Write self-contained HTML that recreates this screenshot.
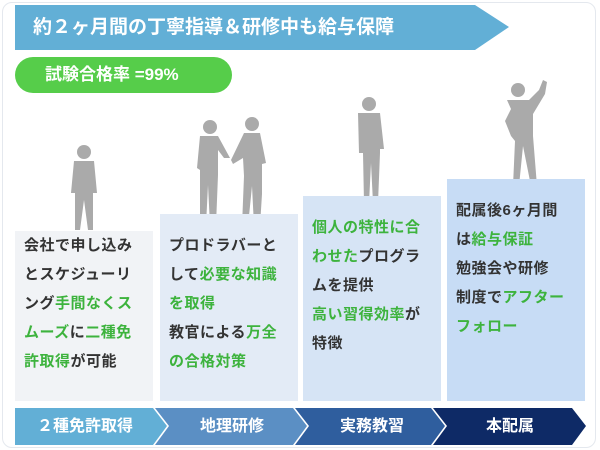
<!DOCTYPE html>
<html><head><meta charset="utf-8"><style>
body{margin:0;width:600px;height:450px;background:#fff;position:relative;overflow:hidden;font-family:"Liberation Sans","Noto Sans CJK JP",sans-serif;font-weight:bold}
.card{position:absolute;left:2px;top:2px;width:592px;height:444px;border:1px solid #e4e8ee;border-radius:10px}
.col{position:absolute;width:138px;bottom:49px;box-sizing:border-box;padding-left:9px;font-size:15px;color:#333;line-height:29px;letter-spacing:0.5px}
.g{color:#3db33d}
.pill{position:absolute;left:15px;top:57px;width:217px;height:36px;border-radius:18px;background:#56cd4a;color:#fff;font-size:17px;line-height:36px;padding-left:30px;box-sizing:border-box}
.bt{position:absolute;top:408px;height:37px;line-height:37px;color:#fff;font-size:16px;text-align:center}
</style></head><body>
<div class="card"></div>
<svg style="position:absolute;left:0;top:0" width="600" height="450">
<polygon points="15,5 475,5 509,27 475,50 15,50" fill="#62afd6"/>
<polygon points="15,408 153,408 167,426 153,445 15,445" fill="#62afd6"/>
<polygon points="155,408 293,408 307,426 293,445 155,445 169,426" fill="#5b8fc4"/>
<polygon points="295,408 431,408 445,426 431,445 295,445 309,426" fill="#2f5e9e"/>
<polygon points="433,408 572,408 586,426 572,445 433,445 447,426" fill="#0e2a66"/>
<g fill="#aaa">
<circle cx="84" cy="152" r="7"/><path d="M74 161h20l3 32h-4v37h-5l-4-30-4 30h-5v-37h-4z"/>
<circle cx="210" cy="127" r="7"/><path d="M200 136h18l12 22h-6l-6-8v25l-2 50h-6l-2-40-2 40h-6v-55l-3-2z"/>
<circle cx="252" cy="124" r="7"/><path d="M244 133h16l6 30-4 1v30l-2 32h-6l-2-40-4 40h-6l2-50-1-18-10 6-2-4z"/>
<circle cx="369" cy="104" r="7"/><path d="M358 113h22l4 36h-4v4l-2 50h-5l-2-40-2 40h-5l-1-50h-4z"/>
<circle cx="518" cy="90" r="7"/><path d="M507 100h22l10-10 4-10 4 2-2 12-12 20v22l4 50h-6l-8-40-4 40h-6l2-45-4-5-6-15 6-12z"/>
</g>
</svg>
<div style="position:absolute;left:33px;top:5px;height:45px;line-height:45px;color:#fff;font-size:19px">約２ヶ月間の丁寧指導＆研修中も給与保障</div>
<div class="pill">試験合格率 =99%</div>
<div class="col" style="left:15px;top:231px;background:#f1f3f6">会社で申し込み<br>とスケジューリ<br>ング<span class="g">手間なくス<br>ムーズ</span>に<span class="g">二種免<br>許取得</span>が可能</div>
<div class="col" style="left:160px;top:214px;background:#e3ebf6;padding-top:17px">プロドラバーと<br>して<span class="g">必要な知識<br>を取得</span><br>教官による<span class="g">万全<br>の合格対策</span></div>
<div class="col" style="left:303px;top:196px;background:#d6e4f5;padding-top:17px"><span class="g">個人の特性に合<br>わせた</span>プログラ<br>ムを提供<br><span class="g">高い習得効率</span>が<br>特徴</div>
<div class="col" style="left:447px;top:179px;background:#c7dcf5;padding-top:17px">配属後6ヶ月間<br>は<span class="g">給与保証</span><br>勉強会や研修<br>制度で<span class="g">アフター<br>フォロー</span></div>
<div class="bt" style="left:15px;width:140px">２種免許取得</div>
<div class="bt" style="left:162px;width:140px">地理研修</div>
<div class="bt" style="left:302px;width:140px">実務教習</div>
<div class="bt" style="left:440px;width:140px">本配属</div>
</body></html>
